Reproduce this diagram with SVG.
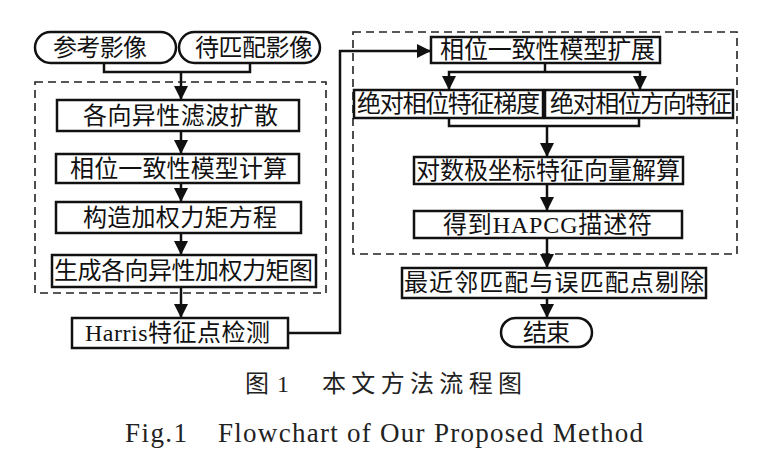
<svg xmlns="http://www.w3.org/2000/svg" width="778" height="472" viewBox="0 0 778 472">
<defs>
<marker id="ah" markerWidth="14" markerHeight="14" viewBox="0 0 14 14" refX="14" refY="7" orient="auto" markerUnits="userSpaceOnUse">
<path d="M0,0 L14,7 L0,14 Z" fill="#111"/>
</marker>
</defs>
<style>
.bx{fill:#fff;stroke:#111;stroke-width:2.5}
.dash{fill:none;stroke:#222;stroke-width:1.6;stroke-dasharray:8 5}
.ln{fill:none;stroke:#111;stroke-width:2.5}
.ar{fill:none;stroke:#111;stroke-width:2.5;marker-end:url(#ah)}
text{font-family:"Liberation Serif","Noto Sans CJK SC",serif;font-size:24px;fill:#111;dominant-baseline:central;text-anchor:start}
.cap{fill:#222}
</style>
<rect width="778" height="472" fill="#fff"/>
<g id="frames">
<rect class="dash" x="35" y="82" width="291" height="211"/>
<rect class="dash" x="353" y="32" width="384" height="222"/>
</g>
<g id="connectors">
<path class="ln" d="M104,63 V72 H250 V63"/>
<path class="ar" d="M181,72 V100"/>
<path class="ar" d="M181,131 V154"/>
<path class="ar" d="M181,183 V202"/>
<path class="ar" d="M181,233 V255"/>
<path class="ar" d="M181,287 V318"/>
<path class="ar" d="M288,333 H340 V51 H431"/>
<path class="ln" d="M545,63 V72"/>
<path class="ar" d="M545,72 H449 V90"/>
<path class="ar" d="M545,72 H640 V90"/>
<path class="ln" d="M449,118 V126 H639 V118"/>
<path class="ar" d="M547,126 V157"/>
<path class="ar" d="M547,184 V211"/>
<path class="ar" d="M547,238 V268"/>
<path class="ar" d="M547,298 V318"/>
</g>
<g id="start1"><rect class="bx" x="35" y="32" width="141" height="31" rx="15.5"/><text x="53" y="47.5" textLength="94">参考影像</text></g>
<g id="start2"><rect class="bx" x="179" y="32" width="141" height="31" rx="15.5"/><text x="195" y="47.5" textLength="118">待匹配影像</text></g>
<g id="n1"><rect class="bx" x="57" y="100" width="242" height="31"/><text x="83" y="115.5" textLength="195">各向异性滤波扩散</text></g>
<g id="n2"><rect class="bx" x="56" y="154" width="243" height="29"/><text x="70" y="168.5" textLength="217">相位一致性模型计算</text></g>
<g id="n3"><rect class="bx" x="56" y="202" width="245" height="31"/><text x="83" y="217.5" textLength="194">构造加权力矩方程</text></g>
<g id="n4"><rect class="bx" x="52" y="255" width="264" height="32"/><text x="54" y="271" textLength="259">生成各向异性加权力矩图</text></g>
<g id="n5"><rect class="bx" x="72" y="318" width="216" height="30"/><text x="85" y="333" textLength="185">Harris特征点检测</text></g>
<g id="m1"><rect class="bx" x="431" y="37" width="229" height="26"/><text x="440" y="50" textLength="215">相位一致性模型扩展</text></g>
<g id="m2"><rect class="bx" x="354" y="90" width="189" height="28"/><text x="357" y="104" textLength="183">绝对相位特征梯度</text></g>
<g id="m3"><rect class="bx" x="545" y="90" width="188" height="28"/><text x="550" y="104" textLength="182">绝对相位方向特征</text></g>
<g id="m4"><rect class="bx" x="414" y="157" width="269" height="27"/><text x="416" y="170.5" textLength="264">对数极坐标特征向量解算</text></g>
<g id="m5"><rect class="bx" x="414" y="211" width="268" height="27"/><text x="443" y="224.5" textLength="209">得到HAPCG描述符</text></g>
<g id="m6"><rect class="bx" x="402" y="268" width="304" height="30"/><text x="404" y="283" textLength="300">最近邻匹配与误匹配点剔除</text></g>
<g id="end"><rect class="bx" x="501" y="318" width="91" height="29" rx="14.5"/><text x="523" y="332.5" textLength="47">结束</text></g>
<g id="caption">
<text class="cap" x="245" y="384" style="font-size:24px" textLength="44">图1</text>
<text class="cap" x="322" y="384" style="font-size:24px" textLength="200">本文方法流程图</text>
<text class="cap" x="125" y="433" style="font-size:27px" textLength="62">Fig.1</text>
<text class="cap" x="218" y="433" style="font-size:27px" textLength="425">Flowchart of Our Proposed Method</text>
</g>
</svg>
